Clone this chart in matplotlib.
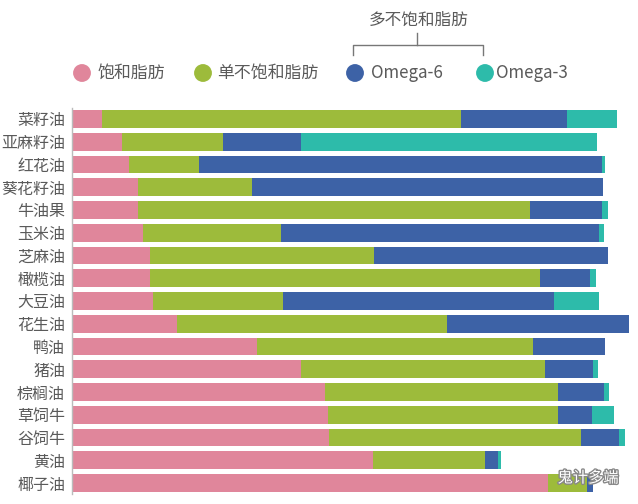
import matplotlib
matplotlib.use("Agg")
import matplotlib.pyplot as plt
import matplotlib.patheffects as pe

plt.rcParams['font.family'] = ['Noto Sans CJK SC', 'DejaVu Sans']

# oils / fats, top to bottom
oils = ["菜籽油", "亚麻籽油", "红花油", "葵花籽油", "牛油果", "玉米油", "芝麻油", "橄榄油",
        "大豆油", "花生油", "鸭油", "猪油", "棕榈油", "草饲牛", "谷饲牛", "黄油", "椰子油"]

# fat composition (%)
saturated = [5.4, 9.0, 10.3, 11.9, 11.9, 12.8, 14.0, 14.0, 14.6, 18.9, 33.3, 41.2, 45.5, 46.0, 46.2, 54.1, 85.6]
mono      = [64.6, 18.2, 12.6, 20.5, 70.5, 24.8, 40.3, 70.1, 23.4, 48.6, 49.6, 43.9, 41.9, 41.4, 45.3, 20.1, 7.0]
omega6    = [19.1, 14.0, 72.5, 63.1, 12.9, 57.2, 42.1, 9.0, 48.6, 32.6, 12.9, 8.6, 8.3, 6.1, 6.8, 2.5, 1.1]
omega3    = [9.0, 53.2, 0.5, 0.0, 1.1, 0.9, 0.0, 1.1, 8.1, 0.0, 0.0, 0.9, 0.9, 4.0, 1.1, 0.4, 0.0]

series_names = ["饱和脂肪", "单不饱和脂肪", "Omega-6", "Omega-3"]
colors = ["#E0869B", "#9DBB3B", "#3D62A6", "#2DBBAA"]
text_color = "#5a5a5a"

W, H = 638, 504
fig = plt.figure(figsize=(W / 100, H / 100), dpi=100)

# main bar axes
ax = fig.add_axes([72 / W, 1 - 494 / H, 561.6 / W, (494 - 108) / H])
y = list(range(len(oils)))
left = [0.0] * len(oils)
for vals, c in zip([saturated, mono, omega6, omega3], colors):
    ax.barh(y, vals, left=left, height=0.78, color=c, linewidth=0)
    left = [l + v for l, v in zip(left, vals)]

ax.set_xlim(0, 101)
ax.set_ylim(16.48, -0.48)
ax.set_yticks(y)
ax.set_yticklabels(oils, fontsize=11.5, color=text_color)
ax.tick_params(axis='y', length=0, pad=5)
ax.set_xticks([])
for s in ["top", "right", "bottom"]:
    ax.spines[s].set_visible(False)
ax.spines["left"].set_color("#bbbbbb")
ax.spines["left"].set_linewidth(1)

# legend + bracket drawn in pixel coordinates
ov = fig.add_axes([0, 0, 1, 1], facecolor="none")
ov.set_xlim(0, W)
ov.set_ylim(H, 0)
ov.axis("off")

dots_x = [82, 203, 355, 485]
labels_x = [97, 217, 371, 496]
for cx, tx, c, name in zip(dots_x, labels_x, colors, series_names):
    ov.scatter([cx], [73], s=165, color=c, edgecolors="none")
    ov.text(tx, 73, name, fontsize=12.2, color=text_color, va="center", ha="left")

ov.plot([353, 353, 483, 483], [55, 45, 45, 55], color="#777777", lw=1)
ov.plot([417, 417], [33, 45], color="#777777", lw=1)
ov.text(419, 20, "多不饱和脂肪", fontsize=12, color=text_color, ha="center", va="center")

# watermark
ov.text(588, 478, "鬼计多端", fontsize=11, color="white", ha="center", va="center",
        path_effects=[pe.withStroke(linewidth=2, foreground="#888888")])

fig.savefig("out.png", dpi=100)
